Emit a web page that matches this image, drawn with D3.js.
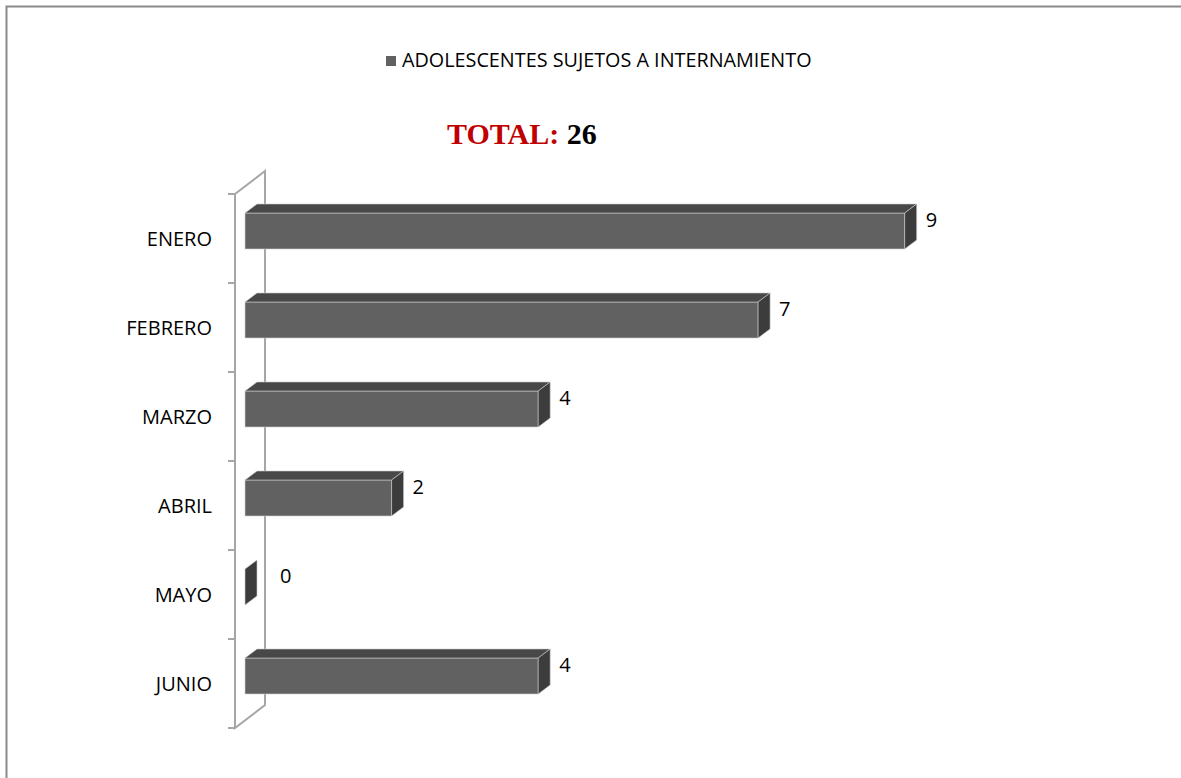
<!DOCTYPE html>
<html>
<head>
<meta charset="utf-8">
<script src="https://cdn.jsdelivr.net/npm/d3@7"></script>
<style>
  body { margin: 0; background: #fff; }
  svg { display: block; }
</style>
</head>
<body>
<svg id="chart" width="1181" height="778"></svg>
<script>
// data
const months = ['ENERO', 'FEBRERO', 'MARZO', 'ABRIL', 'MAYO', 'JUNIO'];
const values = [9, 7, 4, 2, 0, 4];
const seriesName = 'ADOLESCENTES SUJETOS A INTERNAMIENTO';
const totalLabel = 'TOTAL:';
const totalValue = 26;

const svg = d3.select('#chart');

// outer frame
svg.append('rect')
  .attr('x', 6.5).attr('y', 6.5)
  .attr('width', 1190).attr('height', 790)
  .attr('fill', 'none')
  .attr('stroke', '#8a8a8a')
  .attr('stroke-width', 2);

// scales
const x = d3.scaleLinear().domain([0, 10]).range([245, 978]);
const y = d3.scaleBand().domain(months).range([194, 728]);

// 3d depth of the bars and of the wall
const dx = 12, dy = 9;
const wallX = 235, wallDx = 30, wallDy = 23;

// the category wall (front + back vertical line and the two diagonals)
const wall = svg.append('g')
  .attr('stroke', '#a6a6a6')
  .attr('stroke-width', 2)
  .attr('fill', 'none');
const yTop = y.range()[0], yBottom = y.range()[1];
wall.append('path')
  .attr('d', `M${wallX},${yTop} L${wallX},${yBottom} L${wallX + wallDx},${yBottom - wallDy} L${wallX + wallDx},${yTop - wallDy} Z`);

// ticks at band edges
const tickPos = months.map(m => y(m)).concat([yBottom]);
wall.selectAll('line.tick')
  .data(tickPos)
  .enter().append('line')
  .attr('class', 'tick')
  .attr('x1', wallX - 7).attr('x2', wallX)
  .attr('y1', d => d).attr('y2', d => d);

// bars
const barTop = 19, barH = 36;
const bars = svg.selectAll('g.bar')
  .data(months.map((m, i) => ({ month: m, value: values[i] })))
  .enter().append('g')
  .attr('class', 'bar');

bars.each(function(d) {
  const g = d3.select(this);
  const x0 = x(0), x1 = x(d.value);
  const y0 = y(d.month) + barTop, y1 = y0 + barH;
  if(d.value > 0) {
    // front face
    g.append('rect')
      .attr('x', x0).attr('y', y0)
      .attr('width', x1 - x0).attr('height', barH)
      .attr('fill', '#616161')
      .attr('stroke', '#cfcfcf').attr('stroke-width', 0.6);
    // top face
    g.append('path')
      .attr('d', `M${x0},${y0} L${x0 + dx},${y0 - dy} L${x1 + dx},${y0 - dy} L${x1},${y0} Z`)
      .attr('fill', '#484848')
      .attr('stroke', '#cfcfcf').attr('stroke-width', 0.6);
  }
  // right side face
  g.append('path')
    .attr('d', `M${x1},${y0} L${x1 + dx},${y0 - dy} L${x1 + dx},${y1 - dy} L${x1},${y1} Z`)
    .attr('fill', '#3c3c3c')
    .attr('stroke', '#cfcfcf').attr('stroke-width', 0.6);
  // value label (the zero label sits a bit further out, past the wall)
  g.append('text')
    .attr('x', x1 + dx + (d.value > 0 ? 9 : 23))
    .attr('y', y0 + 9)
    .attr('dominant-baseline', 'middle')
    .attr('font-family', 'Open Sans, sans-serif')
    .attr('font-size', 20)
    .attr('fill', '#000')
    .text(d.value);
});

// category labels
svg.selectAll('text.cat')
  .data(months)
  .enter().append('text')
  .attr('class', 'cat')
  .attr('x', 212)
  .attr('y', d => y(d) + y.bandwidth() / 2 + 2)
  .attr('text-anchor', 'end')
  .attr('dominant-baseline', 'middle')
  .attr('font-family', 'Open Sans, sans-serif')
  .attr('font-size', 20)
  .attr('fill', '#000')
  .text(d => d);

// legend
const legend = svg.append('g').attr('transform', 'translate(386,56)');
legend.append('rect')
  .attr('width', 10).attr('height', 10)
  .attr('fill', '#616161');
legend.append('text')
  .attr('x', 16).attr('y', 6)
  .attr('dominant-baseline', 'middle')
  .attr('font-family', 'Open Sans, sans-serif')
  .attr('font-size', 19.8)
  .attr('fill', '#000')
  .text(seriesName);

// total title
const title = svg.append('text')
  .attr('x', 447).attr('y', 144)
  .attr('font-family', 'Liberation Serif, serif')
  .attr('font-weight', 'bold')
  .attr('font-size', 30);
title.append('tspan').attr('fill', '#c00000').text(totalLabel + ' ');
title.append('tspan').attr('fill', '#000').text(totalValue);
</script>
</body>
</html>
